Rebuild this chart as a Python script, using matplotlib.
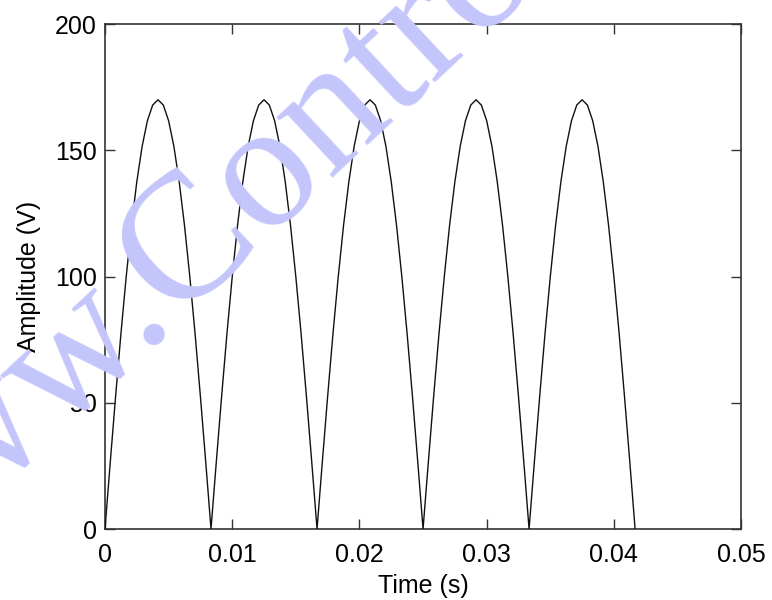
import matplotlib
matplotlib.use("Agg")
import matplotlib.pyplot as plt

# samples of the rectified waveform (s, V)
time_s = [
    0.0, 0.000417, 0.000833, 0.00125, 0.001667, 0.002083, 0.0025, 0.002917, 0.003333, 0.00375,
    0.004167, 0.004583, 0.005, 0.005417, 0.005833, 0.00625, 0.006667, 0.007083, 0.0075, 0.007917,
    0.008333, 0.00875, 0.009167, 0.009583, 0.01, 0.010417, 0.010833, 0.01125, 0.011667, 0.012083,
    0.0125, 0.012917, 0.013333, 0.01375, 0.014167, 0.014583, 0.015, 0.015417, 0.015833, 0.01625,
    0.016667, 0.017083, 0.0175, 0.017917, 0.018333, 0.01875, 0.019167, 0.019583, 0.02, 0.020417,
    0.020833, 0.02125, 0.021667, 0.022083, 0.0225, 0.022917, 0.023333, 0.02375, 0.024167, 0.024583,
    0.025, 0.025417, 0.025833, 0.02625, 0.026667, 0.027083, 0.0275, 0.027917, 0.028333, 0.02875,
    0.029167, 0.029583, 0.03, 0.030417, 0.030833, 0.03125, 0.031667, 0.032083, 0.0325, 0.032917,
    0.033333, 0.03375, 0.034167, 0.034583, 0.035, 0.035417, 0.035833, 0.03625, 0.036667, 0.037083,
    0.0375, 0.037917, 0.038333, 0.03875, 0.039167, 0.039583, 0.04, 0.040417, 0.040833, 0.04125,
    0.041667,
]
amplitude_v = [
    0.0, 26.6, 52.5, 77.2, 99.9, 120.2, 137.5, 151.5, 161.7, 167.9,
    170.0, 167.9, 161.7, 151.5, 137.5, 120.2, 99.9, 77.2, 52.5, 26.6,
    0.0, 26.6, 52.5, 77.2, 99.9, 120.2, 137.5, 151.5, 161.7, 167.9,
    170.0, 167.9, 161.7, 151.5, 137.5, 120.2, 99.9, 77.2, 52.5, 26.6,
    0.0, 26.6, 52.5, 77.2, 99.9, 120.2, 137.5, 151.5, 161.7, 167.9,
    170.0, 167.9, 161.7, 151.5, 137.5, 120.2, 99.9, 77.2, 52.5, 26.6,
    0.0, 26.6, 52.5, 77.2, 99.9, 120.2, 137.5, 151.5, 161.7, 167.9,
    170.0, 167.9, 161.7, 151.5, 137.5, 120.2, 99.9, 77.2, 52.5, 26.6,
    0.0, 26.6, 52.5, 77.2, 99.9, 120.2, 137.5, 151.5, 161.7, 167.9,
    170.0, 167.9, 161.7, 151.5, 137.5, 120.2, 99.9, 77.2, 52.5, 26.6,
    0.0,
]

x_ticks = [0, 0.01, 0.02, 0.03, 0.04, 0.05]
x_tick_labels = ["0", "0.01", "0.02", "0.03", "0.04", "0.05"]
y_ticks = [0, 50, 100, 150, 200]
y_tick_labels = ["0", "50", "100", "150", "200"]

plt.rcParams["font.family"] = ["Liberation Sans", "DejaVu Sans"]

fig = plt.figure(figsize=(7.72, 6.0), dpi=100)
ax = fig.add_axes([0.136, 0.1183, 0.824, 0.8417])

ax.plot(time_s, amplitude_v, color="#111111", linewidth=1.0, zorder=3)

ax.set_xlim(0, 0.05)
ax.set_ylim(0, 200)
ax.set_xticks(x_ticks)
ax.set_xticklabels(x_tick_labels)
ax.set_yticks(y_ticks)
ax.set_yticklabels(y_tick_labels)
ax.tick_params(direction="in", length=7, width=1, top=True, right=True,
               labelsize=18, color="#333333")
ax.tick_params(axis="x", pad=10)
ax.tick_params(axis="y", pad=6)
for s in ax.spines.values():
    s.set_linewidth(1.2)
    s.set_color("#333333")

ax.set_xlabel("Time (s)", fontsize=18, labelpad=5)
ax.set_ylabel("Amplitude (V)", fontsize=18, labelpad=10)

# watermark across the figure
fig.text(-0.173, -0.022, "www.Control", fontsize=130, family="Liberation Serif",
         color="#c4c6fb", rotation=43, rotation_mode="anchor",
         ha="left", va="baseline", zorder=1)

fig.savefig("out.png", dpi=100)
